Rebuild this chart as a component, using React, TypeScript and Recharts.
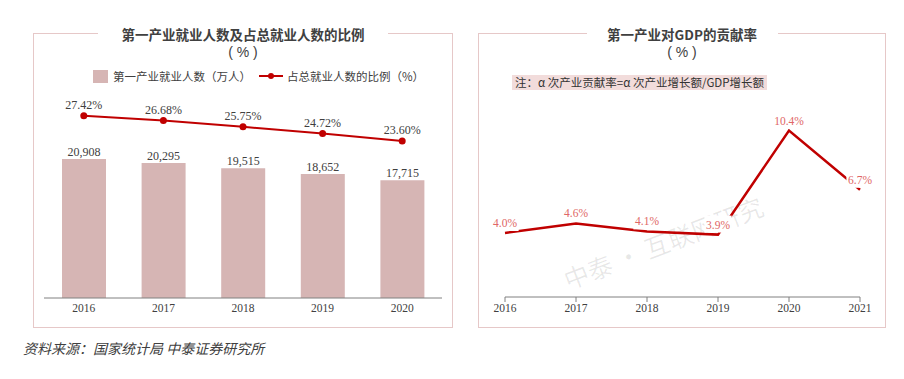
import React from "react"
import {
  ComposedChart,
  LineChart,
  Bar,
  Line,
  XAxis,
  YAxis,
  LabelList,
} from "recharts"

const YEARS_EMP = ["2016", "2017", "2018", "2019", "2020"]
const EMPLOYED = [20908, 20295, 19515, 18652, 17715] // 万人
const SHARE = [27.42, 26.68, 25.75, 24.72, 23.6] // %

const YEARS_GDP = ["2016", "2017", "2018", "2019", "2020", "2021"]
const CONTRIBUTION = [4.0, 4.6, 4.1, 3.9, 10.4, 6.7] // %

const RED = "#c00000"
const BAR = "#d6b5b4"
const TEXT = "#404040"
const BORDER = "#e6c8c8"
const SERIF = '"Liberation Serif", "DejaVu Serif", serif'
const SANS = '"Noto Sans CJK SC", "Noto Sans", sans-serif'

const empData = YEARS_EMP.map((year, i) => ({
  year,
  employed: EMPLOYED[i],
  share: SHARE[i],
}))

const gdpData = YEARS_GDP.map((year, i) => ({
  year,
  value: CONTRIBUTION[i],
}))

const tickStyle = { fontSize: 11.5, fill: TEXT, fontFamily: SERIF }

function Panel({ left, width, title, gap }: { left: number; width: number; title: string; gap: number }) {
  const cx = left + width / 2
  return (
    <>
      <div
        style={{
          position: "absolute",
          left,
          top: 33,
          width,
          height: 295,
          border: `1px solid ${BORDER}`,
          boxSizing: "border-box",
        }}
      />
      <div
        style={{
          position: "absolute",
          left: cx - gap / 2,
          width: gap,
          top: 26,
          height: 16,
          background: "#fff",
          textAlign: "center",
          fontFamily: SANS,
          fontSize: 13.5,
          lineHeight: "16px",
          fontWeight: 700,
          color: TEXT,
        }}
      >
        {title}
      </div>
      <div
        style={{
          position: "absolute",
          left: cx - 30,
          width: 60,
          top: 45,
          textAlign: "center",
          fontFamily: '"Liberation Sans", Arial, sans-serif',
          fontSize: 14,
          lineHeight: "15px",
          color: TEXT,
        }}
      >
        ( % )
      </div>
    </>
  )
}

function GdpLabel(props: any) {
  const { x, y, value } = props
  const text = `${Number(value).toFixed(1)}%`
  const w = text.length * 5.8 + 4
  return (
    <g>
      <rect x={x - w / 2} y={y - 19} width={w} height={17} fill="#fff" />
      <text
        x={x}
        y={y - 10}
        textAnchor="middle"
        dominantBaseline="central"
        fontSize={11.5}
        fontFamily={SERIF}
        fill="#e06666"
      >
        {text}
      </text>
    </g>
  )
}

export default function App() {
  return (
    <div
      style={{
        position: "absolute",
        left: 0,
        top: 0,
        width: 904,
        height: 379,
        background: "#fff",
        overflow: "hidden",
      }}
    >
      <Panel left={33} width={420} title="第一产业就业人数及占总就业人数的比例" gap={290} />
      <Panel left={478} width={408} title="第一产业对GDP的贡献率" gap={191} />

      {/* legend, left panel */}
      <div
        style={{
          position: "absolute",
          left: 93,
          top: 68,
          display: "flex",
          alignItems: "center",
          fontFamily: SANS,
          fontSize: 11.5,
          color: TEXT,
          lineHeight: "16px",
        }}
      >
        <span style={{ width: 15, height: 13, background: BAR, marginRight: 5 }} />
        <span>第一产业就业人数（万人）</span>
        <svg width={24} height={10} style={{ marginLeft: 8, marginRight: 4 }}>
          <line x1={0} y1={5} x2={24} y2={5} stroke={RED} strokeWidth={2} />
          <circle cx={12} cy={5} r={3} fill={RED} />
        </svg>
        <span>占总就业人数的比例（%）</span>
      </div>

      {/* note, right panel */}
      <div
        style={{
          position: "absolute",
          left: 512,
          top: 75,
          padding: "0 3px",
          background: "#f2dcdb",
          fontFamily: SANS,
          fontSize: 11.5,
          lineHeight: "15px",
          color: "#333",
        }}
      >
        注：α 次产业贡献率=α 次产业增长额/GDP增长额
      </div>

      {/* watermark */}
      <div
        style={{
          position: "absolute",
          left: 663,
          top: 242,
          transform: "translate(-50%, -50%) rotate(-21deg)",
          whiteSpace: "nowrap",
          fontFamily: SANS,
          fontSize: 25,
          color: "rgba(0,0,0,0.09)",
        }}
      >
        中泰 • 互联网研究
      </div>

      <div style={{ position: "absolute", left: 0, top: 0 }}>
        <ComposedChart
          width={460}
          height={330}
          data={empData}
          margin={{ top: 32, right: 18, bottom: 2, left: 44 }}
        >
          <XAxis
            dataKey="year"
            height={30}
            tickLine={false}
            tickSize={4}
            axisLine={{ stroke: "#808080" }}
            tick={tickStyle}
          />
          <YAxis yAxisId="left" hide domain={[0, 40000]} />
          <YAxis yAxisId="right" orientation="right" hide domain={[0, 40]} />
          <Bar yAxisId="left" dataKey="employed" fill={BAR} barSize={44} isAnimationActive={false}>
            <LabelList
              dataKey="employed"
              position="top"
              offset={3}
              formatter={(v: any) => Number(v).toLocaleString("en-US")}
              style={{ fontSize: 12, fill: TEXT, fontFamily: SERIF }}
            />
          </Bar>
          <Line
            yAxisId="right"
            dataKey="share"
            type="linear"
            stroke={RED}
            strokeWidth={2}
            dot={{ r: 3.5, fill: RED, stroke: RED, strokeWidth: 0 }}
            isAnimationActive={false}
          >
            <LabelList
              dataKey="share"
              position="top"
              offset={7}
              formatter={(v: any) => `${Number(v).toFixed(2)}%`}
              style={{ fontSize: 12, fill: TEXT, fontFamily: SERIF }}
            />
          </Line>
        </ComposedChart>
      </div>

      <div style={{ position: "absolute", left: 460, top: 0 }}>
        <LineChart
          width={444}
          height={330}
          data={gdpData}
          margin={{ top: 105, right: 44, bottom: 3, left: 45 }}
        >
          <XAxis
            dataKey="year"
            height={30}
            tickSize={5}
            tickLine={{ stroke: "#808080" }}
            axisLine={{ stroke: "#808080" }}
            tick={tickStyle}
          />
          <YAxis hide domain={[0, 12]} />
          <Line
            dataKey="value"
            type="linear"
            stroke={RED}
            strokeWidth={2.5}
            dot={false}
            isAnimationActive={false}
          >
            <LabelList dataKey="value" content={<GdpLabel />} />
          </Line>
        </LineChart>
      </div>

      <div
        style={{
          position: "absolute",
          left: 23,
          top: 339,
          fontFamily: SANS,
          fontStyle: "italic",
          fontSize: 14,
          lineHeight: "18px",
          color: TEXT,
        }}
      >
        资料来源：国家统计局 中泰证券研究所
      </div>
    </div>
  )
}
